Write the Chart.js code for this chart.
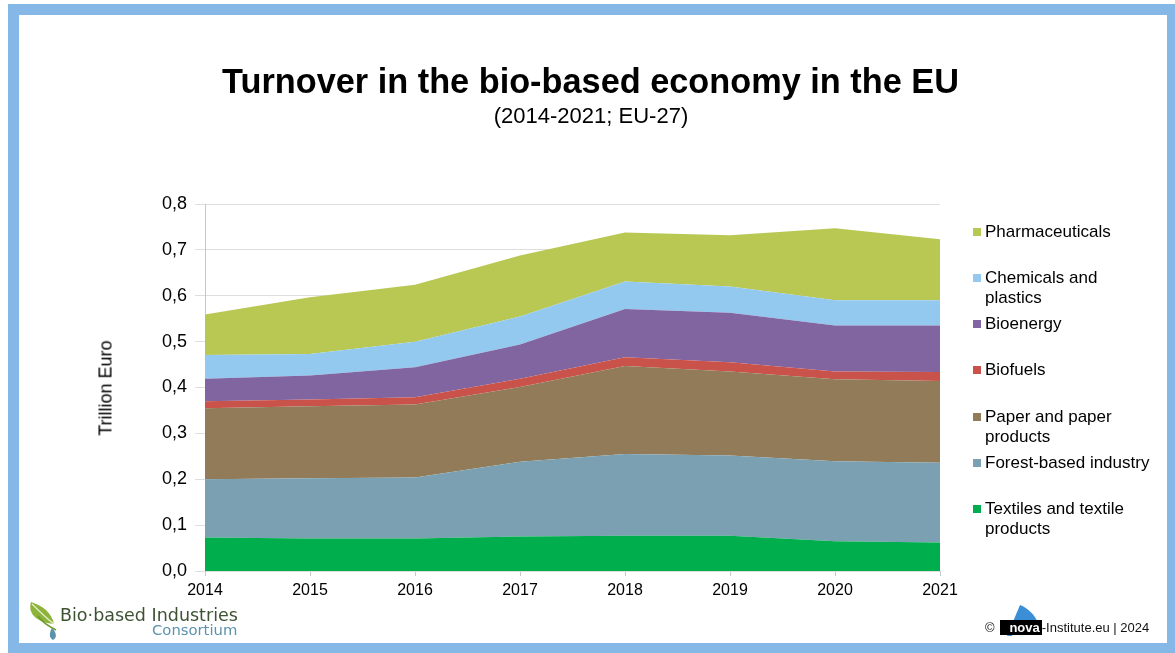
<!DOCTYPE html>
<html>
<head>
<meta charset="utf-8">
<script src="https://cdn.jsdelivr.net/npm/chart.js@4/dist/chart.umd.min.js"></script>
<style>
  html,body{margin:0;padding:0;background:#fff;}
  body{width:1175px;height:653px;position:relative;overflow:hidden;font-family:"Liberation Sans",Arial,sans-serif;}
  #topbar{position:absolute;left:8px;top:4px;width:1167px;height:11px;background:#85b8e6;}
  #leftbar{position:absolute;left:8px;top:4px;width:11px;height:649px;background:#85b8e6;}
  #rightbar{position:absolute;left:1167px;top:4px;width:8px;height:649px;background:#85b8e6;}
  #botbar{position:absolute;left:8px;top:643px;width:1167px;height:10px;background:#85b8e6;}
  #wrap{position:absolute;left:0;top:0;width:1175px;height:653px;}
  #title{position:absolute;left:0;width:1181px;top:62px;text-align:center;font-weight:bold;font-size:34.3px;color:#000;}
  #sub{position:absolute;left:0;width:1182px;top:103px;text-align:center;font-size:22px;color:#000;}
  #ytitle{position:absolute;left:106px;top:388px;transform:translate(-50%,-50%) rotate(-90deg);font-size:18px;white-space:nowrap;color:#000;}
  .lg{position:absolute;left:973px;font-size:17px;line-height:20px;color:#000;}
  .lg .bx{position:absolute;left:0;top:6px;width:8px;height:8px;}
  .lg .tx{position:absolute;left:12px;top:0;white-space:nowrap;}
  #logo1{position:absolute;left:60px;top:605px;font-family:"DejaVu Sans",sans-serif;font-size:17.5px;color:#3d5233;white-space:nowrap;}
  #logo2{position:absolute;left:152px;top:621px;font-family:"DejaVu Sans",sans-serif;font-size:14.8px;color:#5b92ad;white-space:nowrap;}
  #copy{position:absolute;left:985px;top:620px;font-size:13px;color:#111;white-space:nowrap;}
  #copy .nv{background:#000;color:#fff;padding:0 2px;font-weight:bold;}
</style>
</head>
<body>
<div id="topbar"></div>
<div id="leftbar"></div>
<div id="rightbar"></div>
<div id="botbar"></div>
<div id="wrap"><canvas id="c" width="1175" height="653"></canvas></div>
<div id="title">Turnover in the bio-based economy in the EU</div>
<div id="sub">(2014-2021; EU-27)</div>
<div id="ytitle">Trillion Euro</div>
<div id="legend"></div>
<svg style="position:absolute;left:28px;top:600px" width="36" height="42" viewBox="0 0 36 42">
  <path d="M3 2 C0 12 6 22 26 24 C24 14 16 6 3 2 Z" fill="#8db33a"/>
  <path d="M4 4 C12 12 18 18 26 24" stroke="#e6efd0" stroke-width="1.2" fill="none"/>
  <path d="M10 16 C14 22 20 26 28 30" stroke="#6f9a2e" stroke-width="1.5" fill="none"/>
  <path d="M24 28 C21 33 21 38 25 40 C29 38 29 33 24 28 Z" fill="#5b92ad"/>
</svg>
<div id="logo1">Bio·based Industries</div>
<div id="logo2">Consortium</div>
<svg style="position:absolute;left:1004px;top:603px" width="40" height="36" viewBox="0 0 40 36">
  <path d="M3 33 L16 2 C24 5 31 12 34 20 C24 18 16 20 12 24 L8 33 Z" fill="#3a8fd6"/>
</svg>
<div id="copy">© <span style="display:inline-block;width:2px"></span><span class="nv">&nbsp;&nbsp;nova</span>-Institute.eu | 2024</div>
<script>
const years = ["2014","2015","2016","2017","2018","2019","2020","2021"];
const yTickLabels = ["0,0","0,1","0,2","0,3","0,4","0,5","0,6","0,7","0,8"];
const seriesNames = ["Textiles and textile products","Forest-based industry","Paper and paper products","Biofuels","Bioenergy","Chemicals and plastics","Pharmaceuticals"];
const textiles   = [0.073,0.071,0.071,0.075,0.077,0.077,0.065,0.062];
const forest     = [0.127,0.131,0.133,0.163,0.178,0.175,0.174,0.174];
const paper      = [0.155,0.157,0.159,0.163,0.192,0.183,0.179,0.178];
const biofuels   = [0.015,0.015,0.016,0.018,0.019,0.020,0.017,0.020];
const bioenergy  = [0.049,0.052,0.065,0.075,0.105,0.108,0.100,0.101];
const chemicals  = [0.052,0.047,0.056,0.061,0.060,0.057,0.055,0.055];
const pharma     = [0.088,0.124,0.124,0.133,0.107,0.112,0.157,0.133];
const seriesData = [textiles,forest,paper,biofuels,bioenergy,chemicals,pharma];
const colors = ["#00ae4e","#7aa0b2","#917b58","#c9524a","#8065a1","#93c9ef","#b8c853"];

const legendTops = {"Pharmaceuticals":222,"Chemicals and plastics":268,"Bioenergy":314,"Biofuels":360,"Paper and paper products":407,"Forest-based industry":453,"Textiles and textile products":499};
const legendBreaks = {"Chemicals and plastics":"Chemicals and<br>plastics","Paper and paper products":"Paper and paper<br>products","Textiles and textile products":"Textiles and textile<br>products"};
const lg = document.getElementById('legend');
for (let i = seriesNames.length-1; i>=0; i--) {
  const n = seriesNames[i];
  const d = document.createElement('div');
  d.className='lg'; d.style.top = legendTops[n]+'px';
  d.innerHTML = '<div class="bx" style="background:'+colors[i]+'"></div><div class="tx">'+(legendBreaks[n]||n)+'</div>';
  lg.appendChild(d);
}

const datasets = seriesNames.map((n,i)=>({
  label:n, data:seriesData[i], backgroundColor:colors[i], borderColor:colors[i],
  borderWidth:0, pointRadius:0, tension:0, fill: i===0 ? 'origin' : '-1'
}));

new Chart(document.getElementById('c'), {
  type:'line',
  data:{labels:years, datasets},
  options:{
    responsive:false, animation:false,
    layout:{padding:{left:0,top:204,right:235,bottom:0}},
    plugins:{legend:{display:false}, tooltip:{enabled:false}},
    scales:{
      x:{
        offset:false,
        grid:{drawOnChartArea:false, drawTicks:true, tickLength:5, color:'#c8c8c8'},
        border:{display:false},
        ticks:{color:'#000', font:{family:'"Liberation Sans", Arial', size:16}, padding:5, maxRotation:0},
        afterFit:(s)=>{s.height = 82;}
      },
      y:{
        stacked:true, min:0, max:0.8,
        grid:{color:'#dedede', tickLength:10, drawTicks:true},
        border:{display:true, color:'#c8c8c8'},
        ticks:{stepSize:0.1, color:'#000', font:{family:'"Liberation Sans", Arial', size:18}, padding:8,
          callback:(v,i)=>yTickLabels[i]},
        afterFit:(s)=>{s.width = 205;}
      }
    }
  }
});
</script>
</body>
</html>
